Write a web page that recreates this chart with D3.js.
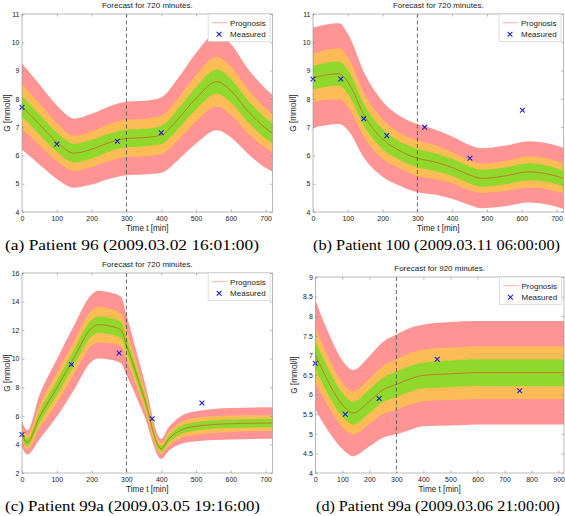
<!DOCTYPE html>
<html>
<head>
<meta charset="utf-8">
<script src="https://cdn.jsdelivr.net/npm/d3@7"></script>
<style>
  body { margin: 0; background: #fff; }
  svg { display: block; }
</style>
</head>
<body>
<svg width="565" height="516"></svg>
<script>
// (a) Patient 96
const aTime   = [0, 50, 100, 150, 200, 250, 300, 350, 400, 450, 500, 560, 600, 650, 700, 720];
const aCenter = [7.73, 7.1, 6.47, 6.08, 6.22, 6.45, 6.6, 6.63, 6.72, 7.31, 8.02, 8.61, 8.29, 7.55, 6.96, 6.78];
const aGreen  = [.36, .35, .34, .33, .33, .32, .31, .31, .32, .36, .4, .43, .42, .38, .36, .35];
const aOrange = [.8, .74, .68, .62, .63, .65, .66, .66, .68, .75, .82, .88, .85, .78, .7, .68];
const aRed    = [1.52, 1.42, 1.3, 1.22, 1.25, 1.28, 1.3, 1.3, 1.33, 1.45, 1.6, 1.72, 1.65, 1.5, 1.4, 1.36];
const aMeasT  = [0, 100, 274, 400];
const aMeasG  = [7.7, 6.4, 6.5, 6.8];

// (b) Patient 100
const bTime   = [0, 75, 100, 150, 200, 250, 300, 350, 400, 450, 485, 550, 620, 680, 720];
const bCenter = [8.75, 8.89, 8.6, 7.35, 6.58, 6.16, 5.9, 5.77, 5.57, 5.31, 5.19, 5.27, 5.42, 5.33, 5.19];
const bGreen  = [.42, .43, .42, .38, .35, .32, .33, .32, .3, .3, .3, .3, .3, .29, .28];
const bOrange = [.85, .9, .88, .78, .7, .62, .63, .6, .55, .53, .52, .53, .55, .54, .53];
const bRed    = [1.77, 1.78, 1.7, 1.5, 1.33, 1.23, 1.2, 1.15, 1.1, 1.06, 1.06, 1.07, 1.08, 1.08, 1.08];
const bMeasT  = [0, 80, 146, 212, 321, 451, 602];
const bMeasG  = [8.7, 8.7, 7.3, 6.7, 7.0, 5.9, 7.6];

// (c) Patient 99a, first day
const cTime   = [0, 15, 50, 100, 150, 200, 220, 250, 285, 300, 350, 400, 420, 450, 500, 600, 720];
const cCenter = [4.7, 4.15, 5.9, 7.95, 10.1, 12.15, 12.38, 12.3, 12.0, 10.98, 7.35, 3.7, 4.33, 4.92, 5.27, 5.45, 5.5];
const cGreen  = [.25, .25, .4, .5, .55, .57, .57, .57, .58, .52, .36, .2, .24, .28, .3, .3, .3];
const cOrange = [.5, .5, .8, 1.05, 1.15, 1.25, 1.25, 1.2, 1.17, 1.05, .72, .4, .48, .55, .6, .58, .55];
const cRed    = [.9, .85, 1.55, 2.0, 2.25, 2.35, 2.37, 2.35, 2.33, 2.1, 1.25, .7, .82, .95, 1.05, 1.1, 1.1];
const cMeasT  = [0, 142, 279, 374, 517];
const cMeasG  = [4.7, 9.6, 10.4, 5.8, 6.9];

// (d) Patient 99a, second day
const dTime   = [0, 50, 100, 140, 200, 250, 300, 350, 400, 500, 600, 700, 800, 920];
const dCenter = [7.02, 6.3, 5.74, 5.53, 5.83, 6.12, 6.26, 6.4, 6.49, 6.53, 6.56, 6.56, 6.56, 6.56];
const dGreen  = [.36, .33, .3, .29, .3, .31, .32, .33, .33, .34, .34, .34, .34, .34];
const dOrange = [.7, .63, .57, .55, .58, .61, .64, .66, .66, .67, .67, .67, .67, .67];
const dRed    = [1.4, 1.25, 1.13, 1.1, 1.15, 1.22, 1.27, 1.3, 1.3, 1.32, 1.32, 1.32, 1.32, 1.32];
const dMeasT  = [0, 111, 236, 451, 756];
const dMeasG  = [6.8, 5.5, 5.9, 6.9, 6.1];

// tick labels
const xTicks720 = [0, 100, 200, 300, 400, 500, 600, 700];
const xTicks920 = [0, 100, 200, 300, 400, 500, 600, 700, 800, 900];
const yTicksAB = [4, 5, 6, 7, 8, 9, 10, 11];
const yTicksC = [2, 4, 6, 8, 10, 12, 14, 16];
const yTicksD = [4, 4.5, 5, 5.5, 6, 6.5, 7, 7.5, 8, 8.5, 9];

const titles = ['Forecast for 720 minutes.', 'Forecast for 720 minutes.', 'Forecast for 720 minutes.', 'Forecast for 920 minutes.'];
const captions = [
    '(a) Patient 96 (2009.03.02 16:01:00)',
    '(b) Patient 100 (2009.03.11 06:00:00)',
    '(c) Patient 99a (2009.03.05 19:16:00)',
    '(d) Patient 99a (2009.03.06 21:00:00)'
];
const forecastStart = 300;

const sans = '"Liberation Sans", Arial, Helvetica, sans-serif';
const serif = '"Liberation Serif", "DejaVu Serif", serif';
const colors = { red: '#fe9494', orange: '#fdbc55', green: '#90d82c', line: '#e0402c', meas: '#1f1fd0', grid: '#8c8c8c' };

const panels = [
    { time: aTime, center: aCenter, green: aGreen, orange: aOrange, red: aRed, measT: aMeasT, measG: aMeasG,
      tMax: 720, yDomain: [4, 11], xTicks: xTicks720, yTicks: yTicksAB, title: titles[0], caption: captions[0],
      frame: { x0: 22, x1: 272.6, y0: 14, y1: 212 }, yLabelX: 7, capX: 5, capW: 254, capY: 250 },
    { time: bTime, center: bCenter, green: bGreen, orange: bOrange, red: bRed, measT: bMeasT, measG: bMeasG,
      tMax: 720, yDomain: [4, 11], xTicks: xTicks720, yTicks: yTicksAB, title: titles[1], caption: captions[1],
      frame: { x0: 313, x1: 563.5, y0: 14, y1: 212 }, yLabelX: 293, capX: 313, capW: 247, capY: 250 },
    { time: cTime, center: cCenter, green: cGreen, orange: cOrange, red: cRed, measT: cMeasT, measG: cMeasG,
      tMax: 720, yDomain: [2, 16], xTicks: xTicks720, yTicks: yTicksC, title: titles[2], caption: captions[2],
      frame: { x0: 22, x1: 272.6, y0: 273, y1: 473 }, yLabelX: 7, capX: 5, capW: 255, capY: 511 },
    { time: dTime, center: dCenter, green: dGreen, orange: dOrange, red: dRed, measT: dMeasT, measG: dMeasG,
      tMax: 920, yDomain: [4, 9], xTicks: xTicks920, yTicks: yTicksD, title: titles[3], caption: captions[3],
      frame: { x0: 315.3, x1: 564, y0: 277, y1: 473 }, yLabelX: 294, capX: 316, capW: 244, capY: 511 }
];

const svg = d3.select('svg');

panels.forEach((p, i) => drawPanel(p, i));

function drawPanel(p, i) {
    const f = p.frame;
    const x = d3.scaleLinear().domain([0, p.tMax]).range([f.x0, f.x1]);
    const y = d3.scaleLinear().domain(p.yDomain).range([f.y1, f.y0]);
    const g = svg.append('g');

    // clip for the bands
    g.append('clipPath').attr('id', 'clip' + i)
        .append('rect').attr('x', f.x0).attr('y', f.y0)
        .attr('width', f.x1 - f.x0).attr('height', f.y1 - f.y0);

    const rows = p.time.map((t, k) => ({ t, c: p.center[k], g: p.green[k], o: p.orange[k], r: p.red[k] }));
    const plot = g.append('g').attr('clip-path', `url(#clip${i})`);

    // bands, widest first
    [['r', colors.red], ['o', colors.orange], ['g', colors.green]].forEach(([key, col]) => {
        const area = d3.area()
            .x((d) => x(d.t))
            .y0((d) => y(d.c - d[key]))
            .y1((d) => y(d.c + d[key]))
            .curve(d3.curveMonotoneX);
        plot.append('path').datum(rows).attr('d', area).attr('fill', col);
    });

    // prognosis line
    const line = d3.line().x((d) => x(d.t)).y((d) => y(d.c)).curve(d3.curveMonotoneX);
    plot.append('path').datum(rows).attr('d', line)
        .attr('fill', 'none').attr('stroke', colors.line).attr('stroke-width', 0.7).attr('stroke-opacity', 0.85);

    // forecast start
    g.append('line')
        .attr('x1', x(forecastStart)).attr('x2', x(forecastStart))
        .attr('y1', f.y0).attr('y2', f.y1)
        .attr('stroke', '#4a4a4a').attr('stroke-width', 0.8).attr('stroke-dasharray', '4,2.5');

    // measured points
    const meas = p.measT.map((t, k) => ({ t, v: p.measG[k] }));
    g.append('g').selectAll('path').data(meas).enter().append('path')
        .attr('transform', (d) => `translate(${x(d.t)},${y(d.v)})`)
        .attr('d', 'M-2.4,-2.4L2.4,2.4M-2.4,2.4L2.4,-2.4')
        .attr('stroke', colors.meas).attr('stroke-width', 1.1).attr('fill', 'none');

    // frame
    g.append('rect').attr('x', f.x0).attr('y', f.y0)
        .attr('width', f.x1 - f.x0).attr('height', f.y1 - f.y0)
        .attr('fill', 'none').attr('stroke', colors.grid).attr('stroke-width', 0.6);

    // axes, MATLAB style ticks pointing in
    const styleAxis = (s) => {
        s.select('.domain').remove();
        s.attr('font-family', sans).attr('font-size', 7);
        s.selectAll('line').attr('stroke', colors.grid).attr('stroke-width', 0.6);
        s.selectAll('text').attr('fill', '#222');
    };
    g.append('g').attr('transform', `translate(0,${f.y1})`)
        .call(d3.axisBottom(x).tickValues(p.xTicks).tickSizeInner(-2.5).tickSizeOuter(0).tickPadding(4.5))
        .call(styleAxis);
    g.append('g').attr('transform', `translate(0,${f.y0})`)
        .call(d3.axisTop(x).tickValues(p.xTicks).tickFormat('').tickSizeInner(-2.5).tickSizeOuter(0))
        .call(styleAxis);
    g.append('g').attr('transform', `translate(${f.x0},0)`)
        .call(d3.axisLeft(y).tickValues(p.yTicks).tickFormat((d) => d).tickSizeInner(-2.5).tickSizeOuter(0).tickPadding(2.5))
        .call(styleAxis);
    g.append('g').attr('transform', `translate(${f.x1},0)`)
        .call(d3.axisRight(y).tickValues(p.yTicks).tickFormat('').tickSizeInner(-2.5).tickSizeOuter(0))
        .call(styleAxis);

    // labels
    const cx = (f.x0 + f.x1) / 2;
    g.append('text').attr('x', cx).attr('y', f.y0 - 5.7)
        .attr('text-anchor', 'middle').attr('font-family', sans).attr('font-size', 8).attr('fill', '#222')
        .text(p.title);
    g.append('text').attr('x', cx).attr('y', f.y1 + 19)
        .attr('text-anchor', 'middle').attr('font-family', sans).attr('font-size', 8.2).attr('fill', '#222')
        .text('Time t [min]');
    g.append('text')
        .attr('transform', `translate(${p.yLabelX + 2.5},${(f.y0 + f.y1) / 2}) rotate(-90)`)
        .attr('text-anchor', 'middle').attr('font-family', sans).attr('font-size', 8.2).attr('fill', '#222')
        .text('G [mmol/l]');
    g.append('text').attr('x', p.capX).attr('y', p.capY)
        .attr('font-family', serif).attr('font-size', 15).attr('fill', '#000')
        .attr('textLength', p.capW).attr('lengthAdjust', 'spacingAndGlyphs')
        .text(p.caption);

    // legend
    const lw = 62, lh = 27.5;
    const lx = f.x1 - 2.5 - lw, ly = f.y0;
    const lg = g.append('g').attr('transform', `translate(${lx},${ly})`);
    lg.append('rect').attr('width', lw).attr('height', lh)
        .attr('fill', '#fff').attr('stroke', '#bdbdbd').attr('stroke-width', 0.5);
    lg.append('line').attr('x1', 3.5).attr('x2', 19.5).attr('y1', 8.7).attr('y2', 8.7)
        .attr('stroke', colors.line).attr('stroke-width', 0.7).attr('stroke-opacity', 0.55);
    lg.append('path').attr('transform', 'translate(11,20.3)')
        .attr('d', 'M-2.4,-2.4L2.4,2.4M-2.4,2.4L2.4,-2.4')
        .attr('stroke', colors.meas).attr('stroke-width', 1.1);
    lg.append('text').attr('x', 22).attr('y', 11.5)
        .attr('font-family', sans).attr('font-size', 8).attr('fill', '#222').text('Prognosis');
    lg.append('text').attr('x', 22).attr('y', 23.1)
        .attr('font-family', sans).attr('font-size', 8).attr('fill', '#222').text('Measured');
}
</script>
</body>
</html>
